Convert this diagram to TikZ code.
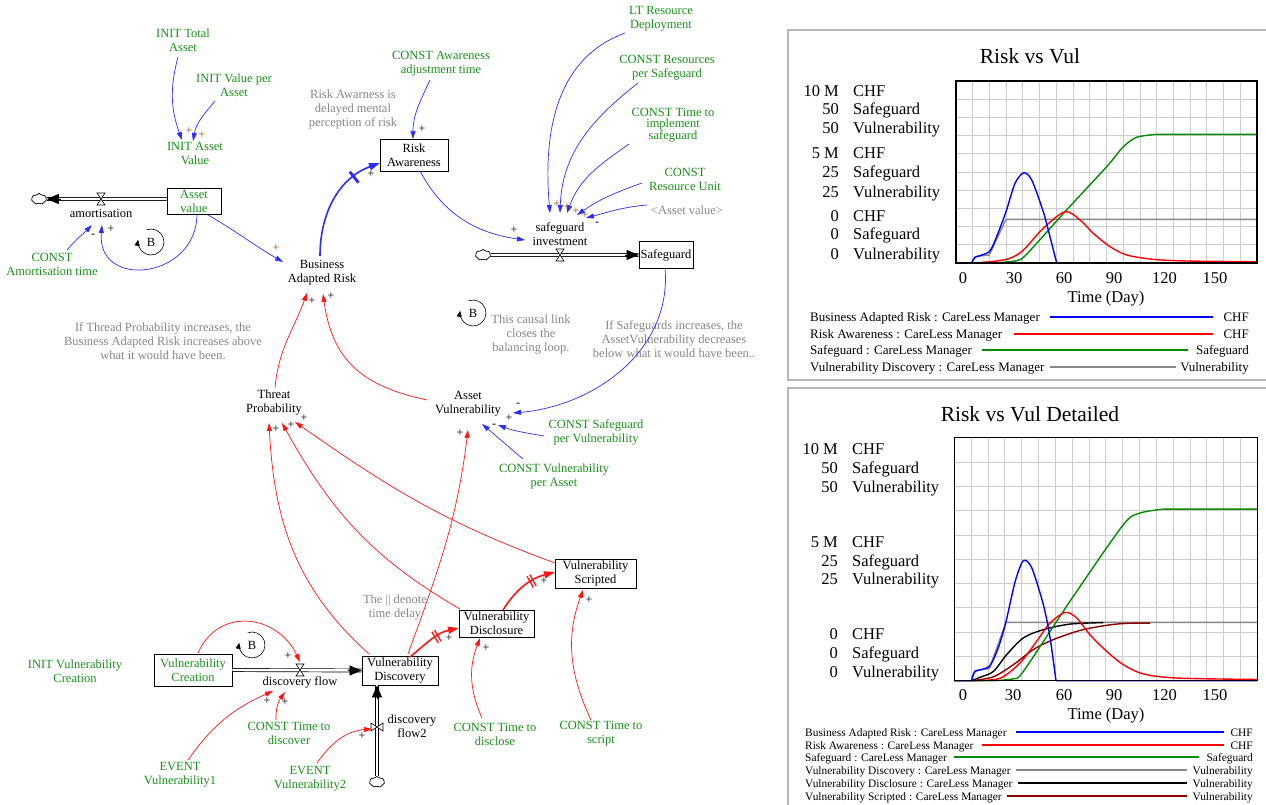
\documentclass[tikz,border=0pt]{standalone}
\usepackage{fontspec}
\setmainfont{Liberation Serif}
\usetikzlibrary{arrows.meta,shapes.symbols,decorations.markings}
\definecolor{vgreen}{RGB}{25,145,25}
\definecolor{vgrey}{RGB}{135,135,135}
\definecolor{vblue}{RGB}{45,45,255}
\definecolor{vred}{RGB}{255,20,20}
\definecolor{vbrown}{RGB}{140,80,20}
\definecolor{gridc}{RGB}{205,205,205}
\definecolor{framec}{RGB}{185,185,185}
\definecolor{cblue}{RGB}{0,0,255}
\definecolor{cred}{RGB}{255,0,0}
\definecolor{cgreen}{RGB}{0,140,0}
\definecolor{cdred}{RGB}{140,0,0}
\definecolor{cgrey}{RGB}{135,135,135}
\begin{document}
\begin{tikzpicture}[x=1pt,y=1pt,
 lbl/.style={font=\fontsize{12.5}{14}\selectfont, align=center, inner sep=0pt},
 glbl/.style={lbl, text=vgreen},
 nlbl/.style={lbl, text=vgrey},
 stock/.style={lbl, draw, line width=0.9pt, inner sep=0pt},
 sgn/.style={font=\fontsize{12}{12}\selectfont, inner sep=0pt},
 bsgn/.style={sgn, text=vbrown},
 blink/.style={draw=vblue, line width=0.7pt, -{Triangle[length=8pt,width=5pt]}},
 rlink/.style={draw=vred, line width=0.7pt, -{Triangle[length=8pt,width=5pt]}},
 bthick/.style={draw=vblue, line width=1.6pt, -{Triangle[length=11pt,width=7pt]}},
 rthick/.style={draw=vred, line width=1.6pt, -{Triangle[length=11pt,width=7pt]}},
 delaymark/.style 2 args={postaction={decorate}, decoration={markings, mark=at position #1 with {\draw[-, draw=#2, line width=1.3pt] (-1.6pt,-6.5pt) -- (-1.6pt,6.5pt) (1.6pt,-6.5pt) -- (1.6pt,6.5pt);}}},
 delaybar/.style 2 args={postaction={decorate}, decoration={markings, mark=at position #1 with {\draw[-, draw=#2, line width=2.8pt] (0pt,-7pt) -- (0pt,7pt);}}},
 pipe/.style={draw=black, double=white, double distance=2.4pt, line width=0.7pt},
 flowtip/.style={line width=0.7pt, -{Triangle[length=12pt,width=10pt]}},
 cloudn/.style={cloud, cloud puffs=7, cloud puff arc=110, aspect=1.4, draw, line width=0.7pt, minimum width=15pt, minimum height=11pt, inner sep=0pt, fill=white},
 hvalve/.pic={\draw[fill=white, line width=0.6pt] (-4,6) -- (4,6) -- (-4,-6) -- (4,-6) -- cycle;},
 vvalve/.pic={\draw[fill=white, line width=0.6pt] (-6,4) -- (-6,-4) -- (6,4) -- (6,-4) -- cycle;},
 loopB/.pic={\draw[line width=0.6pt, -{Triangle[length=6pt,width=5pt]}] (110:13) arc[start angle=110, end angle=-190, radius=13]; \node[lbl] (-b) at (0,0) {B};},
 axl/.style={font=\fontsize{16.5}{18}\selectfont, inner sep=0pt},
 ttl/.style={font=\fontsize{21.5}{24}\selectfont, inner sep=0pt},
 lg1/.style={font=\fontsize{13}{14}\selectfont, inner sep=0pt},
 lg2/.style={font=\fontsize{11.4}{12}\selectfont, inner sep=0pt},
 crv/.style={line width=1.4pt, line join=round}
]
\useasboundingbox (0,0) rectangle (1266,-805);
\fill[white] (0,0) rectangle (1266,-805);

% ---------------- nodes: stock & flow diagram ----------------
\node[glbl] (itot) at (183,-40) {INIT Total\\Asset};
\node[glbl] (ival) at (234,-85) {INIT Value per\\Asset};
\node[glbl] (iav) at (195,-153) {INIT Asset\\Value};
\node[stock, text=vgreen, minimum width=54, minimum height=26] (av) at (194,-201) {Asset\\value};
\coordinate (amv) at (101,-199);
\node[lbl] (amlbl) at (101,-213) {amortisation};
\node[cloudn] (cl1) at (39,-199) {};
\node[glbl] (cam) at (52,-264) {CONST\\Amortisation time};
\node[lbl] (bar) at (322,-273) {Business\\Adapted Risk};
\node[stock, minimum width=68, minimum height=32] (ra) at (414,-155) {Risk\\Awareness};
\node[nlbl] (rnote) at (353,-109) {Risk Awarness is\\delayed mental\\perception of risk};
\node[glbl] (caw) at (441,-64) {CONST Awareness\\adjustment time};
\node[lbl] (si) at (560,-234) {safeguard\\investment};
\coordinate (siv) at (560,-255);
\node[cloudn] (cl2) at (483,-255) {};
\node[stock, minimum width=54, minimum height=27] (sg) at (666,-255) {Safeguard};
\node[glbl] (ltr) at (661,-19) {LT Resource\\Deployment};
\node[glbl] (cres) at (667,-68) {CONST Resources\\per Safeguard};
\node[lbl, text=vgreen, font=\fontsize{12.5}{11.5}\selectfont] (ctim) at (673,-125) {CONST Time to\\implement\\safeguard};
\node[glbl] (cru) at (685,-179) {CONST\\Resource Unit};
\node[nlbl] (avs) at (687,-210) {\textless Asset value\textgreater};
\node[lbl] (avul) at (468,-404) {Asset\\Vulnerability};
\node[glbl] (cspv) at (596,-432) {CONST Safeguard\\per Vulnerability};
\node[glbl] (cvpa) at (554,-476) {CONST Vulnerability\\per Asset};
\node[nlbl] (cnote) at (531,-335) {This causal link\\closes the\\balancing loop.};
\node[nlbl] (snote) at (674,-339) {If Safeguards increases, the\\AssetVulnerability decreases\\below what it would have been..};
\node[nlbl] (tnote) at (163,-341) {If Thread Probability increases, the\\Business Adapted Risk increases above\\what it would have been.};
\node[lbl] (tp) at (274,-403) {Threat\\Probability};
\node[stock, minimum width=76, minimum height=29] (vd) at (400,-670.5) {Vulnerability\\Discovery};
\node[stock, minimum width=75, minimum height=27] (vdi) at (496.5,-623.5) {Vulnerability\\Disclosure};
\node[stock, minimum width=81, minimum height=29] (vs) at (595.5,-573.5) {Vulnerability\\Scripted};
\node[stock, text=vgreen, minimum width=78, minimum height=32] (vc) at (193,-670) {Vulnerability\\Creation};
\node[glbl] (ivc) at (75,-671) {INIT Vulnerability\\Creation};
\coordinate (dfv) at (300,-670);
\node[lbl] (dflbl) at (300,-682) {discovery flow};
\node[glbl] (ev1) at (180,-775) {EVENT\\Vulnerability1};
\node[glbl] (ctd) at (289,-733) {CONST Time to\\discover};
\node[glbl] (ev2) at (310,-779) {EVENT\\Vulnerability2};
\coordinate (df2v) at (377,-727);
\node[lbl] (df2lbl) at (412,-726) {discovery\\flow2};
\node[cloudn] (cl3) at (377,-782) {};
\node[glbl] (ctdi) at (495,-734) {CONST Time to\\disclose};
\node[glbl] (cts) at (601,-734) {CONST Time to\\script};
\node[nlbl] (dnote) at (395,-608) {The \textbar\textbar{} denote\\time delay};

% ---------------- pipes, valves ----------------
\draw[pipe] ([yshift=2]av.west) -- (cl1.east);
\draw[flowtip] ([xshift=14]cl1.east) -- (cl1.east);
\pic at (amv) {hvalve};
\draw[pipe] (cl2.east) -- (sg.west);
\draw[flowtip] ([xshift=-14]sg.west) -- (sg.west);
\pic at (siv) {hvalve};
\draw[pipe] (vc.east) -- (vd.west);
\draw[flowtip] ([xshift=-14]vd.west) -- (vd.west);
\pic at (dfv) {hvalve};
\draw[pipe] (cl3.north) -- ([xshift=-23]vd.south);
\draw[flowtip] ([xshift=-23,yshift=-14]vd.south) -- ([xshift=-23]vd.south);
\pic at (df2v) {vvalve};

% ---------------- loops ----------------
\pic (lb1) at (151,-242) {loopB};
\pic (lb2) at (473,-313) {loopB};
\pic (lb3) at (252,-645) {loopB};

% ---------------- blue links ----------------
\draw[blink] ([shift={(-5,-17)}]itot.center) to[out=-105,in=110] ([shift={(-13,13)}]iav.center);
\draw[blink] ([shift={(-19,-16)}]ival.center) to[out=-130,in=80] ([shift={(-2,12)}]iav.center);
\draw[blink] ([shift={(14,-14)}]av.center) to[out=-30,in=150] ([shift={(-39,11)}]bar.center);
\draw[blink] ([shift={(3,-13)}]av.center) to[out=-90,in=-95,looseness=1.75] ([shift={(1,-12)}]amlbl.center);
\draw[blink] ([shift={(15,14)}]cam.center) to[out=50,in=-135] ([shift={(-9,-12)}]amlbl.center);
\draw[bthick, delaybar={0.75}{vblue}] ([shift={(-2,17)}]bar.center) to[out=90,in=200] ([shift={(-34,-8)}]ra.center);
\draw[blink] ([shift={(-11,-16)}]caw.center) to[out=-115,in=90] ([shift={(-1,16)}]ra.center);
\draw[blink] ([shift={(6,-16)}]ra.center) to[out=-62,in=172] ([shift={(-35,-6)}]si.center);
\draw[blink] ([shift={(-36,-14)}]ltr.center) to[out=200,in=95] ([shift={(-10,21)}]si.center);
\draw[blink] ([shift={(-29,-15)}]cres.center) to[out=218,in=88] ([shift={(0,21)}]si.center);
\draw[blink] ([shift={(-44,-19)}]ctim.center) to[out=215,in=70] ([shift={(7,21)}]si.center);
\draw[blink] ([shift={(-43,-4)}]cru.center) to[out=200,in=35] ([shift={(17,19)}]si.center);
\draw[blink] ([shift={(-40,5)}]avs.center) to[out=185,in=15] ([shift={(26,16)}]si.center);
\draw[blink] ([shift={(-1,-13)}]sg.center) to[out=-85,in=5] ([shift={(45,-9)}]avul.center);
\draw[blink] ([shift={(-52,-4)}]cspv.center) to[out=170,in=-20] ([shift={(30,-21)}]avul.center);
\draw[blink] ([shift={(-31,17)}]cvpa.center) to[out=140,in=-40] ([shift={(14,-20)}]avul.center);

% ---------------- red links ----------------
\draw[rlink] ([shift={(1,15)}]tp.center) to[out=85,in=-110] ([shift={(-15,-20)}]bar.center);
\draw[rlink] ([shift={(-41,4)}]avul.center) to[out=168,in=-82,looseness=1.15] ([shift={(1,-21)}]bar.center);
\draw[rlink] ([shift={(-31,16.5)}]vd.center) to[out=138,in=-87] ([shift={(-5,-20)}]tp.center);
\draw[rlink] ([shift={(-36.5,14.5)}]vdi.center) to[out=150,in=-61] ([shift={(8,-20)}]tp.center);
\draw[rlink] ([shift={(-40.5,10.5)}]vs.center) to[out=160,in=-35] ([shift={(21,-19)}]tp.center);
\draw[rlink] ([shift={(8,16.5)}]vd.center) to[out=70,in=-97] ([shift={(0,-26)}]avul.center);
\draw[rthick, delaymark={0.58}{vred}] ([shift={(10,13.5)}]vd.center) to[out=40,in=192] ([shift={(-37.5,-4.5)}]vdi.center);
\draw[rthick, delaymark={0.62}{vred}] ([shift={(6.5,13.5)}]vdi.center) to[out=58,in=195] ([shift={(-40.5,1.5)}]vs.center);
\draw[rlink] ([shift={(-13,16)}]ctdi.center) to[out=114,in=-111] ([shift={(-16.5,-14.5)}]vdi.center);
\draw[rlink] ([shift={(-10,14)}]cts.center) to[out=115,in=-110] ([shift={(-12.5,-16.5)}]vs.center);
\draw[rlink] ([shift={(5,17)}]vc.center) to[out=66,in=115,looseness=1.3] ([yshift=8]dfv);
\draw[rlink] ([shift={(8,15)}]ev1.center) to[out=55,in=204] ([shift={(-27,-9)}]dflbl.center);
\draw[rlink] ([shift={(-13,13)}]ctd.center) to[out=92,in=-125] ([shift={(-15,-10)}]dflbl.center);
\draw[rlink] ([shift={(7,16)}]ev2.center) to[out=55,in=184] ([xshift=-5,yshift=-2]df2v);

% ---------------- polarity signs ----------------
\node[bsgn] (s1) at (189,-131) {+};
\node[bsgn] (s2) at (202,-135) {+};
\node[bsgn] (s3) at (276,-248) {+};
\node[sgn] (s4) at (93,-236) {-};
\node[sgn] (s5) at (111,-229) {+};
\node[sgn] (s6) at (422,-129) {+};
\node[sgn] (s7) at (371,-174) {+};
\node[sgn] (s8) at (514,-230) {+};
\node[bsgn] (s9) at (557,-204) {+};
\node[bsgn] (s10) at (567,-207) {+};
\node[bsgn] (s11) at (576,-211) {+};
\node[bsgn] (s12) at (585,-215) {+};
\node[sgn] (s13) at (597,-224) {-};
\node[sgn] (s14) at (518,-405) {-};
\node[sgn] (s15) at (509,-418) {+};
\node[sgn] (s16) at (494,-426) {-};
\node[sgn] (s17) at (460,-433) {+};
\node[sgn] (s18) at (312,-301) {+};
\node[sgn] (s19) at (331,-296) {+};
\node[sgn] (s20) at (276,-429) {+};
\node[sgn] (s21) at (291,-425) {+};
\node[sgn] (s22) at (304,-418) {+};
\node[sgn] (s23) at (449,-638) {+};
\node[sgn] (s24) at (544,-581) {+};
\node[sgn] (s25) at (486,-648) {+};
\node[sgn] (s26) at (589,-600) {+};
\node[sgn] (s27) at (288,-656) {+};
\node[sgn] (s28) at (267,-701) {+};
\node[sgn] (s29) at (285,-702) {+};
\node[sgn] (s30) at (362,-736) {+};

% ================= chart 1 =================
\draw[framec, line width=1.5pt] (788,-30) rectangle (1270,-380);
\node[ttl, anchor=base] (t1) at (1030,-64) {Risk vs Vul};
\foreach \yy/\nn/\uu in {97/10 M/CHF,115/50/Safeguard,134/50/Vulnerability,159/5 M/CHF,178/25/Safeguard,197/25/Vulnerability,222/0/CHF,240/0/Safeguard,259/0/Vulnerability}{
 \node[axl, anchor=base east] (c1n\yy) at (839,-\yy) {\nn};
 \node[axl, anchor=base west] (c1u\yy) at (853,-\yy) {\uu};
}
\foreach \xx/\lab in {963/0,1014/30,1064/60,1114/90,1164.5/120,1215/150}{
 \node[axl, anchor=base] (c1t\lab) at (\xx,-283) {\lab};
}
\node[axl, anchor=base] (c1x) at (1106,-302) {Time (Day)};
\begin{scope}[shift={(956,-263)}, x=1.672pt, y=1.82pt]
 \draw[gridc, line width=0.8pt] (0,0) grid[xstep=10, ystep=10] (180,100);
 \draw[crv, cgrey] (0,0) -- (9.4,0) -- (11.4,3.5) -- (19.9,4.4) -- (29.9,24) -- (180,24);
 \draw[crv, cgreen] (0,0) -- plot[smooth, tension=0.45] coordinates {(22.3,0) (36.3,1.3) (42.3,4.9) (66,29) (90.1,52.9) (100.1,63.9) (108.1,69.1) (120,70.7)} -- (180,70.7);
 \draw[crv, cred] plot[smooth, tension=0.5] coordinates {(10.3,0) (22.3,0.9) (32.3,2.6) (40.3,7.1) (52.2,19.1) (65.2,28.2) (74.2,23.6) (82.1,16.3) (92.1,9) (102.1,4.4) (118,2) (138,1.1) (180,0.7)};
 \draw[crv, cblue] (0,0) -- plot[smooth, tension=0.45] coordinates {(9.4,0) (11.4,3.1) (19.9,6.2) (24.3,14.5) (29.9,28.2) (35.3,43.8) (40.5,49.6) (45.3,45.6) (52.2,28.2) (56.2,14.5) (60.2,0)} -- (180,0);
 \draw[line width=1.4pt] (0,0) rectangle (180,100);
\end{scope}
\node[lg1, anchor=base west] (l1a) at (810,-321.5) {Business Adapted Risk : CareLess Manager};
\node[lg1, anchor=base east] (l1au) at (1249,-321.5) {CHF};
\draw[cblue, line width=1.4pt] (1050,-317) -- (1213,-317);
\node[lg1, anchor=base west] (l1b) at (810,-338.5) {Risk Awareness : CareLess Manager};
\node[lg1, anchor=base east] (l1bu) at (1249,-338.5) {CHF};
\draw[cred, line width=1.4pt] (1014,-334) -- (1213,-334);
\node[lg1, anchor=base west] (l1c) at (810,-354.5) {Safeguard : CareLess Manager};
\node[lg1, anchor=base east] (l1cu) at (1249,-354.5) {Safeguard};
\draw[cgreen, line width=1.4pt] (982,-350) -- (1188,-350);
\node[lg1, anchor=base west] (l1d) at (810,-371.5) {Vulnerability Discovery : CareLess Manager};
\node[lg1, anchor=base east] (l1du) at (1249,-371.5) {Vulnerability};
\draw[cgrey, line width=1.4pt] (1050,-367) -- (1176,-367);

% ================= chart 2 =================
\draw[framec, line width=1.5pt] (788,-388) rectangle (1270,-810);
\node[ttl, anchor=base] (t2) at (1030,-421) {Risk vs Vul Detailed};
\foreach \yy/\nn/\uu in {454/10 M/CHF,473/50/Safeguard,492/50/Vulnerability,547/5 M/CHF,566/25/Safeguard,584/25/Vulnerability,639/0/CHF,658/0/Safeguard,677/0/Vulnerability}{
 \node[axl, anchor=base east] (c2n\yy) at (838,-\yy) {\nn};
 \node[axl, anchor=base west] (c2u\yy) at (852,-\yy) {\uu};
}
\foreach \xx/\lab in {963/0,1013/30,1064/60,1114/90,1164.5/120,1215/150}{
 \node[axl, anchor=base] (c2t\lab) at (\xx,-700) {\lab};
}
\node[axl, anchor=base] (c2x) at (1106,-719) {Time (Day)};
\begin{scope}[shift={(954.3,-680.7)}, x=1.6833pt, y=2.43pt]
 \draw[gridc, line width=0.8pt] (0,0) grid[xstep=10, ystep=10] (180,100);
 \draw[crv, cgrey] (0,0) -- (10.3,0) -- (12.3,4.1) -- (20.8,5) -- (30.7,24) -- (180,24);
 \draw[crv, black] plot[smooth, tension=0.5] coordinates {(10.3,0) (15.3,1.4) (23.2,3.8) (31.1,10.7) (41,17.6) (52.9,21) (68.7,23.3) (88.5,23.9)};
 \draw[crv, cdred] plot[smooth, tension=0.5] coordinates {(10.3,0) (23.2,1.6) (35.1,6.6) (46.9,12.8) (58.8,16.9) (74.7,20.7) (90.5,22.8) (102.4,23.6) (116.3,23.7)};
 \draw[crv, cgreen] (0,0) -- plot[smooth, tension=0.45] coordinates {(23.2,0) (35.1,0.8) (41,3.8) (70,34) (100.4,64.2) (110.3,69) (124.2,70.6)} -- (180,70.6);
 \draw[crv, cred] plot[smooth, tension=0.5] coordinates {(11.3,0) (27.1,1) (39,7.3) (48.9,16.2) (56.8,23.7) (65.8,28.1) (72.7,25.8) (80.6,18.9) (90.5,12.1) (100.4,6.6) (112.3,2.8) (132.1,1.1) (180,0.5)};
 \draw[crv, cblue] (0,0) -- plot[smooth, tension=0.45] coordinates {(10.3,0) (12.3,3.8) (20.8,5.9) (26.1,13.5) (30.7,24.3) (36.1,40.7) (41,49.4) (46,46.5) (52.9,31.3) (56.9,17.6) (60.4,0)} -- (180,0);
 \draw[line width=1.4pt] (0,0) rectangle (180,100);
\end{scope}
\node[lg2, anchor=base west] (l2a) at (805,-736) {Business Adapted Risk : CareLess Manager};
\node[lg2, anchor=base east] (l2au) at (1253,-736) {CHF};
\draw[cblue, line width=1.3pt] (1016,-732) -- (1224,-732);
\node[lg2, anchor=base west] (l2b) at (805,-749) {Risk Awareness : CareLess Manager};
\node[lg2, anchor=base east] (l2bu) at (1253,-749) {CHF};
\draw[cred, line width=1.3pt] (982,-745) -- (1224,-745);
\node[lg2, anchor=base west] (l2c) at (805,-761) {Safeguard : CareLess Manager};
\node[lg2, anchor=base east] (l2cu) at (1253,-761) {Safeguard};
\draw[cgreen, line width=1.3pt] (954,-757) -- (1199,-757);
\node[lg2, anchor=base west] (l2d) at (805,-774) {Vulnerability Discovery : CareLess Manager};
\node[lg2, anchor=base east] (l2du) at (1253,-774) {Vulnerability};
\draw[cgrey, line width=1.3pt] (1016,-770) -- (1187,-770);
\node[lg2, anchor=base west] (l2e) at (805,-787) {Vulnerability Disclosure : CareLess Manager};
\node[lg2, anchor=base east] (l2eu) at (1253,-787) {Vulnerability};
\draw[black, line width=1.3pt] (1018,-783) -- (1187,-783);
\node[lg2, anchor=base west] (l2f) at (805,-800) {Vulnerability Scripted : CareLess Manager};
\node[lg2, anchor=base east] (l2fu) at (1253,-800) {Vulnerability};
\draw[cdred, line width=1.3pt] (1007,-796) -- (1187,-796);
\end{tikzpicture}
\end{document}
